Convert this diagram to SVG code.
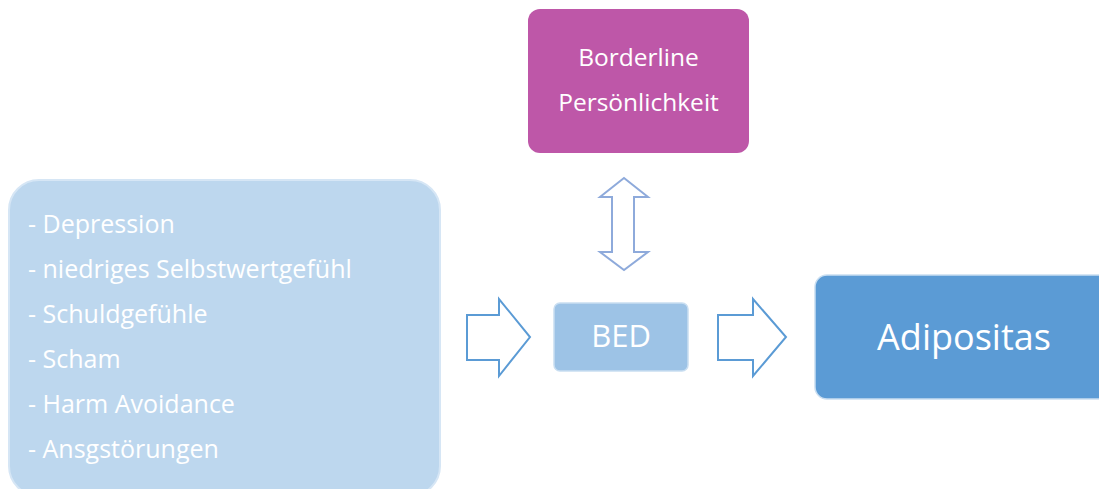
<svg xmlns="http://www.w3.org/2000/svg" width="1099" height="489" viewBox="0 0 1099 489">
<style>
.t{font-family:"Open Sans","Liberation Sans",sans-serif;fill:#ffffff}
.arr{fill:#ffffff;stroke-width:2;stroke-linejoin:miter}
</style>
<rect width="1099" height="489" fill="#ffffff"/>
<g id="borderline">
<rect x="528" y="9" width="221" height="144" rx="12" fill="#BE57A8"/>
<text class="t" x="638.5" y="66" font-size="24.5" text-anchor="middle">Borderline</text>
<text class="t" x="638.5" y="111" font-size="24.5" text-anchor="middle">Persönlichkeit</text>
</g>
<g id="faktoren">
<rect x="9" y="180" width="431" height="316" rx="30" fill="#BDD7EE" stroke="#D6E6F5" stroke-width="2"/>
<g class="t" font-size="25">
<text x="28" y="233">- Depression</text>
<text x="28" y="278">- niedriges Selbstwertgefühl</text>
<text x="28" y="323">- Schuldgefühle</text>
<text x="28" y="368">- Scham</text>
<text x="28" y="413">- Harm Avoidance</text>
<text x="28" y="458">- Ansgstörungen</text>
</g>
</g>
<g id="bed">
<rect x="554" y="303" width="134" height="68" rx="6" fill="#9DC3E6" stroke="#C9DEF1" stroke-width="1.5"/>
<text class="t" x="621" y="347" font-size="31" text-anchor="middle">BED</text>
</g>
<g id="adipositas">
<rect x="815" y="275" width="300" height="124" rx="12" fill="#5B9BD5" stroke="#C9DEF1" stroke-width="1.5"/>
<text class="t" x="964" y="350" font-size="36" text-anchor="middle">Adipositas</text>
</g>
<g id="connectors">
<polygon class="arr" stroke="#8EAADB" points="624,178 648,197 634,197 634,252 648,252 624,270 600,252 612,252 612,197 600,197"/>
<polygon class="arr" stroke="#5B9BD5" points="467,315 499,315 499,299 530,337 499,376 499,360 467,360"/>
<polygon class="arr" stroke="#5B9BD5" points="718,315 753,315 753,299 786,337 753,376 753,360 718,360"/>
</g>
</svg>
